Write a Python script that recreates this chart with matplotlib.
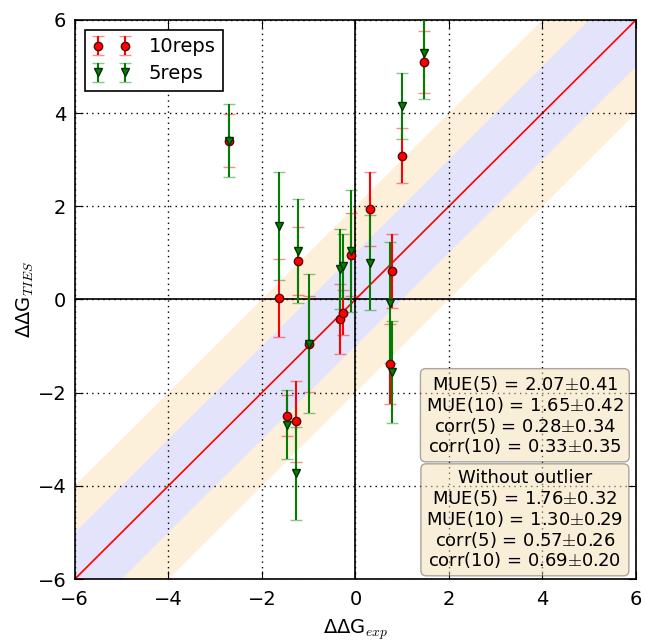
import numpy as np
import matplotlib
matplotlib.use("Agg")
import matplotlib.pyplot as plt

plt.rcParams["mathtext.fontset"] = "cm"
plt.rcParams["font.family"] = "DejaVu Sans"

# experimental ddG and the two TIES estimates (10 and 5 replicas)
ddg_exp = [-2.70, -1.63, -1.22, -0.99, -0.33, -0.27, -0.10, 0.31, 0.74, 0.78, 1.00, 1.46, -1.47, -1.26]
ties_10 = [3.41, 0.03, 0.83, -0.95, -0.42, -0.28, 0.96, 1.94, -1.39, 0.61, 3.09, 5.10, -2.49, -2.61]
err_10 = [0.56, 0.84, 0.73, 1.03, 0.75, 0.48, 0.89, 0.79, 0.86, 0.80, 0.60, 0.66, 0.45, 0.87]
ties_5 = [3.41, 1.58, 1.04, -0.95, 0.66, 0.72, 1.04, 0.79, -0.07, -1.56, 4.15, 5.30, -2.69, -3.73]
err_5 = [0.79, 1.16, 1.12, 1.49, 0.86, 0.69, 1.30, 1.02, 1.30, 1.10, 0.70, 0.99, 0.74, 1.00]

stats_all = ["MUE(5) = 2.07$\\pm$0.41", "MUE(10) = 1.65$\\pm$0.42",
             "corr(5) = 0.28$\\pm$0.34", "corr(10) = 0.33$\\pm$0.35"]
stats_no_outlier = ["Without outlier", "MUE(5) = 1.76$\\pm$0.32", "MUE(10) = 1.30$\\pm$0.29",
                    "corr(5) = 0.57$\\pm$0.26", "corr(10) = 0.69$\\pm$0.20"]
ticks = [-6, -4, -2, 0, 2, 4, 6]

fig = plt.figure(figsize=(6.45, 6.42), dpi=100)
ax = fig.add_axes([0.116, 0.098, 0.870, 0.871])

# bands of +-1 and +-2 kcal/mol around the diagonal
xx = np.array([-6, 6])
ax.fill_between(xx, xx - 2, xx + 2, color="#fdf0db", lw=0, zorder=0)
ax.fill_between(xx, xx - 1, xx + 1, color="#e3e3fb", lw=0, zorder=0)
ax.plot(xx, xx, color="red", lw=1.2, zorder=1)

ax.axhline(0, color="black", lw=1.2, zorder=1)
ax.axvline(0, color="black", lw=1.2, zorder=1)

e10 = ax.errorbar(ddg_exp, ties_10, yerr=err_10, fmt="o", color="red", ecolor="red",
                  mec="#600000", ms=6, capsize=4, elinewidth=1.5, label="10reps", zorder=3)
for cap in e10[1]:
    cap.set_alpha(0.45)
e5 = ax.errorbar(ddg_exp, ties_5, yerr=err_5, fmt="v", color="green", ecolor="green",
                 mec="#003000", ms=6, capsize=4, elinewidth=1.5, label="5reps", zorder=3)
for cap in e5[1]:
    cap.set_alpha(0.45)

ax.set_xlim(-6, 6)
ax.set_ylim(-6, 6)
ax.set_xticks(ticks)
ax.set_yticks(ticks)
ax.grid(True, color="black", linestyle=(0, (1, 3)), lw=1)
ax.tick_params(direction="in", labelsize=14, length=6, top=True, right=True)
ax.tick_params(axis="x", pad=8)
ax.tick_params(axis="y", pad=6)
ax.set_xticklabels([str(t).replace("-", "\u2212") for t in ticks])
ax.set_yticklabels([str(t).replace("-", "\u2212") for t in ticks])
for s in ax.spines.values():
    s.set_linewidth(1.2)

ax.set_xlabel("\u0394\u0394G$_{exp}$", fontsize=14, labelpad=6)
ax.set_ylabel("\u0394\u0394G$_{TIES}$", fontsize=14, labelpad=1)

leg = ax.legend(loc="upper left", numpoints=2, fontsize=14, fancybox=False,
                framealpha=1, edgecolor="black", handletextpad=0.9,
                borderpad=0.4, labelspacing=0.4)
leg.get_frame().set_linewidth(1.2)

box = dict(boxstyle="round,pad=0.3", facecolor="wheat", alpha=0.5, edgecolor="#555555")
ax.text(0.802, 0.293, "\n".join(stats_all), transform=ax.transAxes, fontsize=13,
        ha="center", va="center", bbox=box, zorder=5, linespacing=1.05)
ax.text(0.802, 0.106, "\n".join(stats_no_outlier), transform=ax.transAxes, fontsize=13,
        ha="center", va="center", bbox=box, zorder=5, linespacing=1.05)

fig.savefig("out.png", dpi=100)
